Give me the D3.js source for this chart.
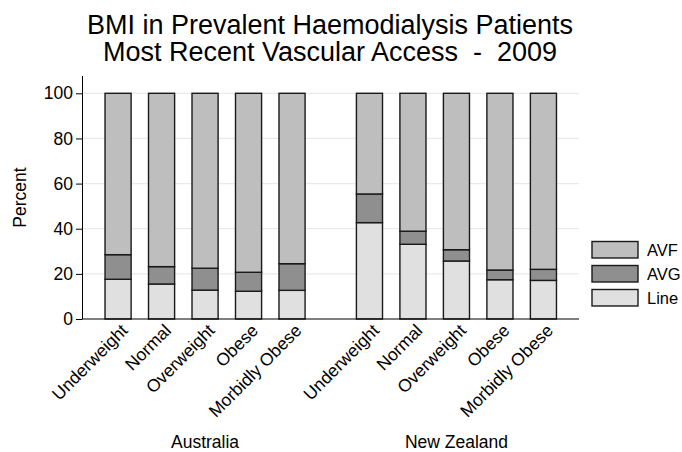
<!DOCTYPE html>
<html>
<head>
<meta charset="utf-8">
<script src="https://cdn.jsdelivr.net/npm/d3@7"></script>
<style>
  html, body { margin: 0; padding: 0; background: #fff; }
  svg { display: block; font-family: "Liberation Sans", Arial, Helvetica, sans-serif; }
</style>
</head>
<body>
<svg id="chart" width="682" height="452"></svg>
<script>
// Vascular access by BMI group, percent of prevalent haemodialysis patients
const countries = ["Australia", "New Zealand"];
const bmiGroups = ["Underweight", "Normal", "Overweight", "Obese", "Morbidly Obese"];
const accessTypes = ["Line", "AVG", "AVF"];

const lineAU = [17.6, 15.5, 12.8, 12.3, 12.7];
const avgAU  = [10.9, 7.7, 9.7, 8.4, 11.8];
const avfAU  = [71.5, 76.8, 77.5, 79.3, 75.5];

const lineNZ = [42.7, 33.1, 25.7, 17.4, 17.1];
const avgNZ  = [12.7, 5.8, 5.0, 4.3, 4.9];
const avfNZ  = [44.6, 61.1, 69.3, 78.3, 78.0];

const yTicks = [0, 20, 40, 60, 80, 100];
const legendOrder = ["AVF", "AVG", "Line"];

const fills = { Line: "#e0e0e0", AVG: "#8f8f8f", AVF: "#bebebe" };
const FS = 17.5;

// Build rows for stacking
const seriesByCountry = {
  "Australia": { Line: lineAU, AVG: avgAU, AVF: avfAU },
  "New Zealand": { Line: lineNZ, AVG: avgNZ, AVF: avfNZ }
};
const rows = [];
countries.forEach(c => {
  bmiGroups.forEach((g, i) => {
    const r = { country: c, group: g };
    accessTypes.forEach(t => { r[t] = seriesByCountry[c][t][i]; });
    rows.push(r);
  });
});

const svg = d3.select("#chart");
const plot = { left: 82.5, right: 579, top: 76, bottom: 319 };

const y = d3.scaleLinear().domain([0, 100]).range([plot.bottom, 93.3]);
const xOuter = d3.scaleBand().domain(countries)
  .range([plot.left, plot.right]).paddingInner(0.135).paddingOuter(0.055);
const xInner = d3.scaleBand().domain(bmiGroups)
  .range([0, xOuter.bandwidth()]).paddingInner(0.4).paddingOuter(0.2);

// Gridlines
svg.append("g")
  .selectAll("line")
  .data(yTicks.filter(t => t > 0))
  .join("line")
  .attr("x1", plot.left).attr("x2", plot.right)
  .attr("y1", d => y(d)).attr("y2", d => y(d))
  .attr("stroke", "#eaeaea").attr("stroke-width", 1.2);

// Stacked bars
const stack = d3.stack().keys(accessTypes);
const layers = stack(rows);

const barG = svg.append("g");
layers.forEach(layer => {
  barG.append("g")
    .selectAll("rect")
    .data(layer)
    .join("rect")
    .attr("x", d => xOuter(d.data.country) + xInner(d.data.group))
    .attr("width", xInner.bandwidth())
    .attr("y", d => y(d[1]))
    .attr("height", d => y(d[0]) - y(d[1]))
    .attr("fill", fills[layer.key])
    .attr("stroke", "#1a1a1a")
    .attr("stroke-width", 1.4);
});

// Y axis
const yAxis = d3.axisLeft(y).tickValues(yTicks).tickSize(6.5).tickPadding(3);
const yg = svg.append("g").attr("transform", `translate(${plot.left},0)`).call(yAxis);
yg.select(".domain").remove();
yg.selectAll(".tick line").attr("stroke", "#000");
yg.selectAll(".tick text").attr("font-size", FS).attr("fill", "#000")
  .attr("font-family", "Liberation Sans, Arial, sans-serif");
svg.append("line")
  .attr("x1", plot.left).attr("x2", plot.left)
  .attr("y1", plot.top).attr("y2", plot.bottom)
  .attr("stroke", "#000").attr("stroke-width", 1);

// X axis baseline
svg.append("line")
  .attr("x1", plot.left).attr("x2", plot.right)
  .attr("y1", plot.bottom).attr("y2", plot.bottom)
  .attr("stroke", "#000").attr("stroke-width", 1.2);

// Rotated category labels
svg.append("g")
  .selectAll("text")
  .data(rows)
  .join("text")
  .attr("transform", d => {
    const cx = xOuter(d.country) + xInner(d.group) + xInner.bandwidth() / 2 + 2;
    return `translate(${cx},${plot.bottom + 4}) rotate(-45)`;
  })
  .attr("text-anchor", "end")
  .attr("dy", "0.7em")
  .attr("font-size", FS)
  .text(d => d.group);

// Country labels
svg.append("g")
  .selectAll("text")
  .data(countries)
  .join("text")
  .attr("x", d => xOuter(d) + xOuter.bandwidth() / 2)
  .attr("y", 448)
  .attr("text-anchor", "middle")
  .attr("font-size", FS)
  .text(d => d);

// Y axis title
svg.append("text")
  .attr("transform", `translate(25.5,${(plot.top + plot.bottom) / 2}) rotate(-90)`)
  .attr("text-anchor", "middle")
  .attr("font-size", FS)
  .text("Percent");

// Title
const title = svg.append("text").attr("text-anchor", "middle").attr("font-size", 27);
title.append("tspan").attr("x", 330).attr("y", 33.5).text("BMI in Prevalent Haemodialysis Patients");
title.append("tspan").attr("x", 330).attr("y", 61)
  .text("Most Recent Vascular Access  -  2009");
svg.selectAll("tspan").style("white-space", "pre");

// Legend
const legend = svg.append("g").attr("transform", "translate(592,241.5)");
const li = legend.selectAll("g").data(legendOrder).join("g")
  .attr("transform", (d, i) => `translate(0,${i * 24})`);
li.append("rect")
  .attr("width", 46).attr("height", 16.5)
  .attr("fill", d => fills[d])
  .attr("stroke", "#1a1a1a").attr("stroke-width", 1.4);
li.append("text")
  .attr("x", 55).attr("y", 8.5).attr("dy", "0.36em")
  .attr("font-size", 16.5)
  .text(d => d);
</script>
</body>
</html>
